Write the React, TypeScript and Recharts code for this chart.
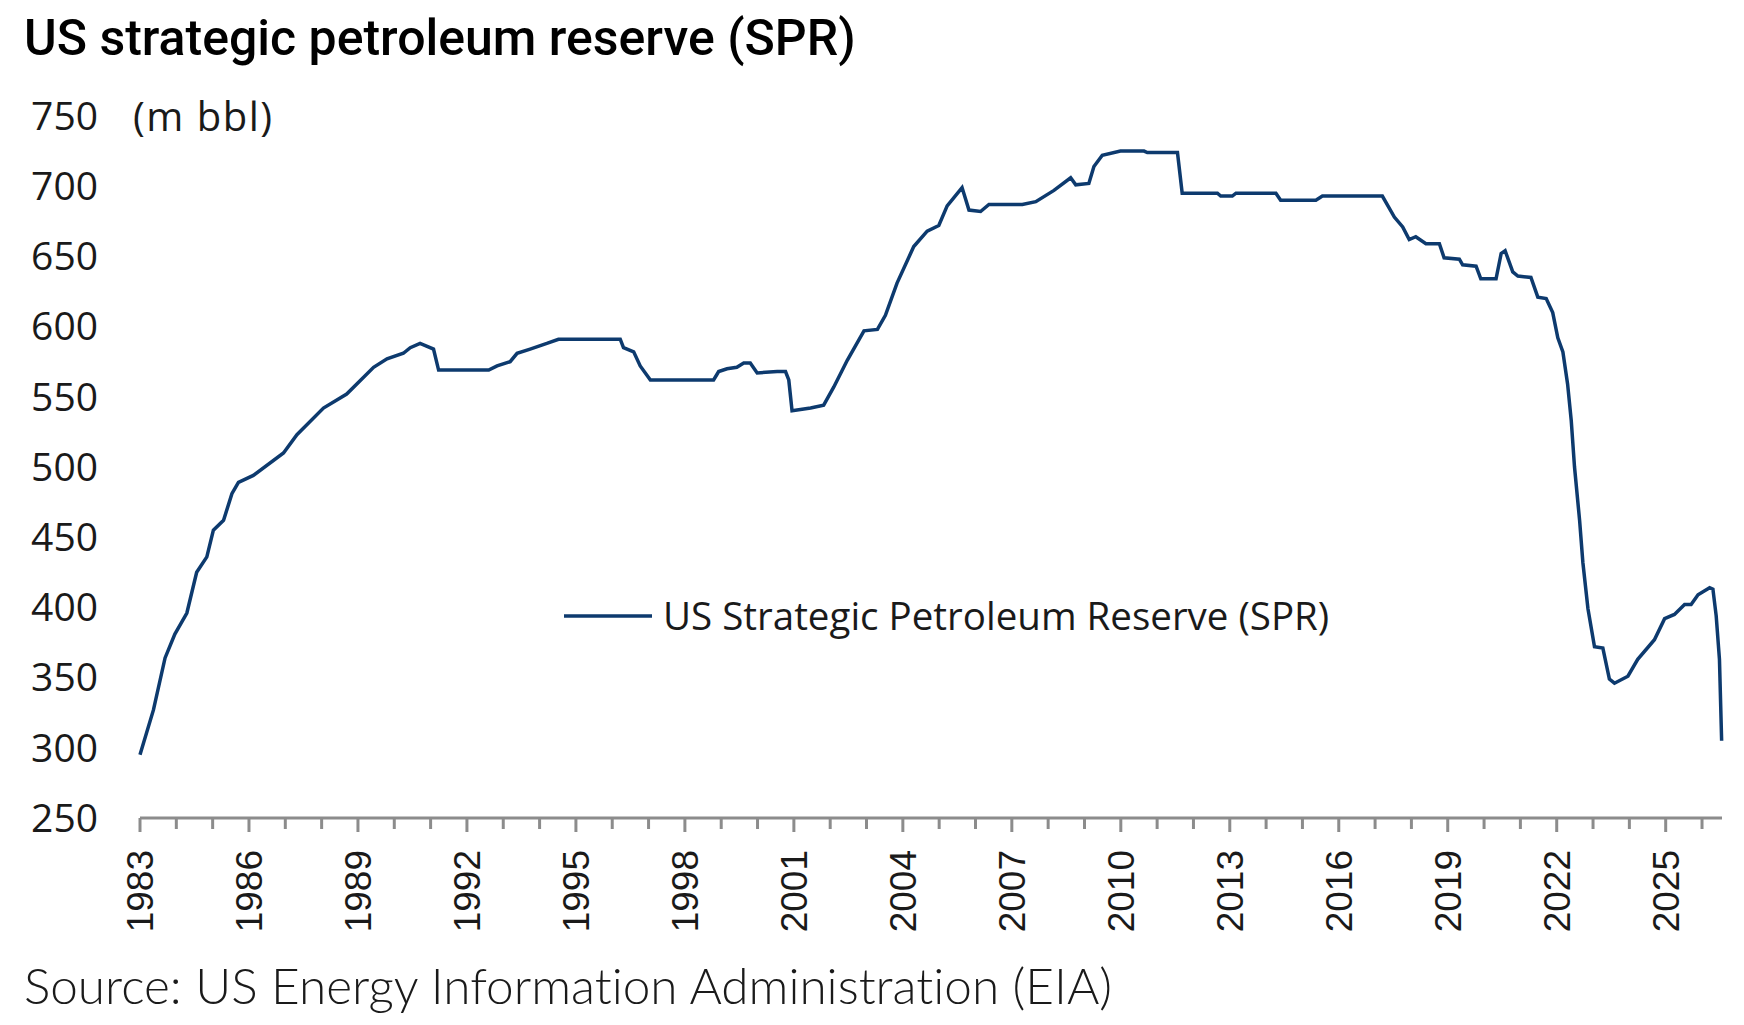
import React from "react";
import { LineChart, Line, XAxis, YAxis } from "recharts";

// End-of-period SPR inventory (million barrels)
const years = [
  1983.0, 1983.37, 1983.69, 1983.96, 1984.29, 1984.56, 1984.84, 1985.02, 1985.3, 1985.53,
  1985.71, 1986.12, 1986.95, 1987.32, 1988.05, 1988.69, 1989.43, 1989.8, 1990.25, 1990.44,
  1990.71, 1991.08, 1991.22, 1992.6, 1992.83, 1993.19, 1993.38, 1993.74, 1994.2, 1994.52,
  1996.22, 1996.31, 1996.59, 1996.77, 1997.05, 1998.79, 1998.93, 1999.16, 1999.43, 1999.62,
  1999.8, 1999.99, 2000.54, 2000.77, 2000.86, 2000.95, 2001.46, 2001.82, 2002.1, 2002.47,
  2002.93, 2003.3, 2003.52, 2003.84, 2004.3, 2004.67, 2004.99, 2005.22, 2005.63, 2005.82,
  2006.14, 2006.37, 2007.29, 2007.66, 2008.16, 2008.62, 2008.76, 2009.12, 2009.26, 2009.49,
  2009.99, 2010.64, 2010.73, 2011.56, 2011.69, 2012.66, 2012.75, 2013.07, 2013.17, 2014.27,
  2014.4, 2015.37, 2015.55, 2017.2, 2017.53, 2017.76, 2017.94, 2018.12, 2018.4, 2018.77,
  2018.9, 2019.32, 2019.41, 2019.78, 2019.91, 2020.33, 2020.47, 2020.58, 2020.79, 2020.93,
  2021.29, 2021.48, 2021.71, 2021.89, 2022.03, 2022.17, 2022.3, 2022.4, 2022.49, 2022.63,
  2022.72, 2022.86, 2023.04, 2023.27, 2023.45, 2023.59, 2023.96, 2024.23, 2024.69, 2024.97,
  2025.24, 2025.52, 2025.7, 2025.89, 2026.21, 2026.3, 2026.39, 2026.48, 2026.54,
];

const spr = [
  295, 327, 364, 381, 396, 425, 436, 455, 462, 481,
  489, 494, 510, 523, 542, 552, 571, 577, 581, 585,
  588, 584, 569, 569, 572, 575, 581, 584, 588, 591,
  591, 585, 582, 572, 562, 562, 568, 570, 571, 574,
  574, 567, 568, 568, 562, 540, 542, 544, 557, 576,
  597, 598, 608, 631, 657, 668, 672, 686, 699, 683,
  682, 687, 687, 689, 697, 706, 701, 702, 714, 722,
  725, 725, 724, 724, 695, 695, 693, 693, 695, 695,
  690, 690, 693, 693, 678, 671, 662, 664, 659, 659,
  649, 648, 644, 643, 634, 634, 652, 654, 639, 636,
  635, 621, 620, 610, 592, 582, 559, 533, 500, 462,
  432, 399, 372, 371, 349, 346, 351, 363, 377, 392,
  395, 402, 402, 409, 414, 413, 394, 363, 305,
];

const yTicks = [250, 300, 350, 400, 450, 500, 550, 600, 650, 700, 750];
const xTicks = [
  1983, 1984, 1985, 1986, 1987, 1988, 1989, 1990, 1991, 1992, 1993, 1994, 1995, 1996, 1997,
  1998, 1999, 2000, 2001, 2002, 2003, 2004, 2005, 2006, 2007, 2008, 2009, 2010, 2011, 2012,
  2013, 2014, 2015, 2016, 2017, 2018, 2019, 2020, 2021, 2022, 2023, 2024, 2025, 2026,
];
const labelEvery = 3;
const seriesName = "US Strategic Petroleum Reserve (SPR)";

const data = years.map((t, i) => ({ t, spr: spr[i] }));

const LINE = "#0d3a6e";
const AXIS = "#8c8c8c";
const segoeLike = "'Open Sans', 'Noto Sans', sans-serif";

const YearTick = (props: any) => {
  const { x, y, payload } = props;
  const yr = payload.value as number;
  const major = (yr - 1983) % labelEvery === 0;
  return (
    <g>
      <line x1={x} x2={x} y1={y} y2={y + (major ? 14 : 11)} stroke={AXIS} strokeWidth={3} />
      {major && (
        <text
          x={x}
          y={y + 32}
          transform={`rotate(-90 ${x} ${y + 32})`}
          textAnchor="end"
          dy="0.36em"
          fontFamily="'Liberation Sans', Arial, sans-serif"
          fontSize={37}
          fill="#1a1a1a"
        >
          {yr}
        </text>
      )}
    </g>
  );
};

export default function App() {
  return (
    <div style={{ position: "absolute", left: 0, top: 0, width: 1744, height: 1025, background: "#fff" }}>
      <div
        style={{
          position: "absolute",
          left: 24,
          top: 9,
          fontFamily: "Roboto, sans-serif",
          fontWeight: 500,
          fontSize: 50,
          color: "#000",
          whiteSpace: "nowrap",
        }}
      >
        US strategic petroleum reserve (SPR)
      </div>
      <div
        style={{
          position: "absolute",
          left: 133,
          top: 88,
          fontFamily: segoeLike,
          fontSize: 40,
          letterSpacing: 1.5,
          color: "#1a1a1a",
          whiteSpace: "nowrap",
        }}
      >
        (m bbl)
      </div>
      <LineChart
        width={1744}
        height={1025}
        data={data}
        margin={{ top: 116, right: 22, bottom: 0, left: 0 }}
      >
        <XAxis
          dataKey="t"
          type="number"
          domain={[1983, 2026.55]}
          ticks={xTicks}
          interval={0}
          height={207}
          axisLine={{ stroke: AXIS, strokeWidth: 3 }}
          tickLine={false}
          tickSize={0}
          tickMargin={0}
          tick={<YearTick />}
        />
        <YAxis
          type="number"
          domain={[250, 750]}
          ticks={yTicks}
          interval={0}
          width={140}
          axisLine={false}
          tickLine={false}
          tickSize={0}
          tickMargin={42}
          tick={{ fontFamily: segoeLike, fontSize: 39, fill: "#1a1a1a" }}
        />
        <Line
          type="linear"
          dataKey="spr"
          name={seriesName}
          stroke={LINE}
          strokeWidth={3.5}
          dot={false}
          isAnimationActive={false}
        />
      </LineChart>
      <svg
        width={900}
        height={60}
        style={{ position: "absolute", left: 560, top: 586, overflow: "visible" }}
      >
        <line x1={4} x2={92} y1={30} y2={30} stroke={LINE} strokeWidth={3.5} />
        <text x={103} y={30} dy="0.36em" fontFamily={segoeLike} fontSize={38.5} fill="#1a1a1a">
          {seriesName}
        </text>
      </svg>
      <div
        style={{
          position: "absolute",
          left: 24,
          top: 955,
          fontFamily: "Lato, sans-serif",
          fontWeight: 300,
          fontSize: 49.5,
          fontVariantLigatures: "none",
          color: "#1a1a1a",
          whiteSpace: "nowrap",
        }}
      >
        Source: US Energy Information Administration (EIA)
      </div>
    </div>
  );
}
